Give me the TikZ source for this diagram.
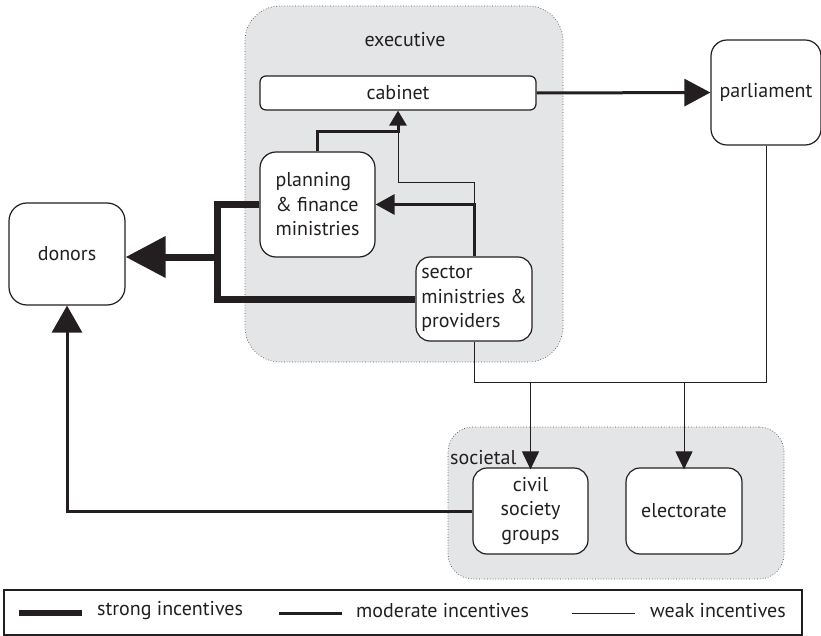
\documentclass[tikz,border=0pt]{standalone}
\usepackage{fontspec}
\setmainfont{PT Sans}
\usetikzlibrary{arrows.meta}
\definecolor{panel}{HTML}{E4E5E7}
\definecolor{ink}{HTML}{231F20}
\tikzset{
  every node/.style={font=\fontsize{20}{24.5}\selectfont, text=ink},
  group/.style={draw=ink!80, dotted, line width=0.7pt, fill=panel, rounded corners=#1, inner sep=0pt},
  actor/.style={draw=ink, line width=1.2pt, fill=white, rounded corners=#1, inner sep=0pt},
  strong/.style={draw=ink, line width=7pt, line join=miter},
  moderate/.style={draw=ink, line width=3pt, line join=miter},
  weak/.style={draw=ink, line width=1pt, line join=miter},
  tip/.style 2 args={-{Triangle[length=#1pt,width=#2pt]}},
}
\begin{document}
\begin{tikzpicture}[x=1pt,y=-1pt]
  \useasboundingbox[fill=white] (0,0) rectangle (821,636);

  % groupings
  \node[group=35pt, minimum width=318pt, minimum height=356pt] (exec) at (404,184) {};
  \node[group=25pt, minimum width=336pt, minimum height=152pt] (soc) at (616,503) {};
  \node (execlabel) at (405,40) {executive};
  \node[anchor=west, inner sep=0pt] (soclabel) at (450,458) {societal};

  % actors
  \node[actor=6pt, minimum width=276pt, minimum height=34pt] (cabinet) at (398,93) {cabinet};
  \node[actor=16pt, minimum width=115pt, minimum height=105pt, align=left] (planning) at (317.5,204.5) {planning\\\& finance\\ministries};
  \node[actor=14pt, minimum width=116pt, minimum height=84pt, align=left] (sector) at (474,299) {sector\\ministries \&\\providers};
  \node[actor=16pt, minimum width=110pt, minimum height=105pt] (parliament) at (766,92.5) {parliament};
  \node[actor=18pt, minimum width=116pt, minimum height=102pt] (donors) at (67,254) {donors};
  \node[actor=14pt, minimum width=115pt, minimum height=86pt, align=center] (civil) at (530.5,511) {civil\\society\\groups};
  \node[actor=14pt, minimum width=116pt, minimum height=86pt] (electorate) at (684,511) {electorate};

  % junction points
  \coordinate (jn) at (217,257);
  \coordinate (cj) at (398,132);
  \coordinate (wk) at (398,183);
  \coordinate (bl) at (474,382);

  % weak incentives
  \draw[weak] (sector.north) |- (wk) -- (cj);
  \draw[weak] (parliament.south) |- (bl) -- (sector.south);
  \draw[weak, tip={18}{17}] (civil.north |- bl) -- ([yshift=-2pt]civil.north);
  \draw[weak, tip={18}{17}] (electorate.north |- bl) -- ([yshift=-2pt]electorate.north);

  % moderate incentives
  \draw[moderate, tip={19}{20}] (sector.north) |- (planning.east);
  \draw[moderate, tip={15}{17}] (planning.north) |- (cj) -- (cabinet.south);
  \draw[moderate, tip={26}{27}] (cabinet.east) -- (parliament.west);
  \draw[moderate, tip={27}{30}] (civil.west) -| (donors.south);

  % strong incentives
  \draw[strong] (planning.west) -| (jn) |- (sector.west);
  \draw[strong, tip={40}{40}] (jn) -- (donors.east |- jn);

  % legend
  \node[draw=ink, line width=1.2pt, minimum width=798pt, minimum height=45pt, inner sep=0pt] (legend) at (403,612.5) {};
  \coordinate (s1) at (19,613);  \coordinate (s2) at (82,613);
  \coordinate (m1) at (279,613); \coordinate (m2) at (342,613);
  \coordinate (w1) at (572,613); \coordinate (w2) at (635,613);
  \draw[draw=ink, line width=6.5pt] (s1) -- (s2);
  \draw[moderate] (m1) -- (m2);
  \draw[weak] (w1) -- (w2);
  \node[anchor=west, inner sep=0pt] (ls) at (97,611) {strong incentives};
  \node[anchor=west, inner sep=0pt] (lm) at (356,611) {moderate incentives};
  \node[anchor=west, inner sep=0pt] (lw) at (650,611) {weak incentives};
\end{tikzpicture}
\end{document}
